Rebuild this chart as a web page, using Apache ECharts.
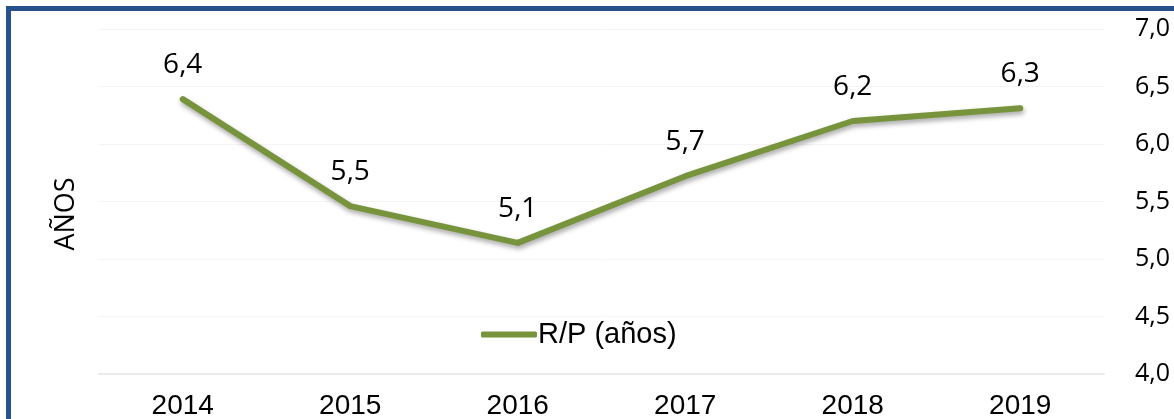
<!DOCTYPE html>
<html>
<head>
<meta charset="utf-8">
<script src="https://cdn.jsdelivr.net/npm/echarts@6/dist/echarts.min.js"></script>
<style>
  html, body { margin: 0; padding: 0; background: #fff; }
  #chart { width: 1174px; height: 419px; }
</style>
</head>
<body>
<div id="chart"></div>
<script>
var years = ['2014', '2015', '2016', '2017', '2018', '2019'];
var rp = [6.39, 5.46, 5.14, 5.72, 6.2, 6.31];
var yTicks = [4.0, 4.5, 5.0, 5.5, 6.0, 6.5, 7.0];

function coma(v) {
  return v.toFixed(1).replace('.', ',');
}

var myChart = echarts.init(document.getElementById('chart'));
var option = {
  backgroundColor: '#fff',
  animation: false,
  graphic: [
    { type: 'rect', shape: { x: 6, y: 6, width: 1168, height: 5 }, style: { fill: '#27508C' } },
    { type: 'rect', shape: { x: 6, y: 6, width: 5, height: 413 }, style: { fill: '#27508C' } },
    {
      type: 'text', x: 66, y: 214, rotation: Math.PI / 2,
      style: { text: 'AÑOS', font: '27px "Open Sans", sans-serif', fill: '#000', align: 'center', verticalAlign: 'middle' }
    }
  ],
  grid: { left: 99, right: 70, top: 29, bottom: 45, outerBoundsMode: 'none' },
  legend: {
    data: ['R/P (años)'],
    left: 476, top: 315,
    itemWidth: 56, itemHeight: 6, itemGap: 4,
    icon: 'roundRect',
    itemStyle: { color: '#77933C' },
    textStyle: { fontFamily: '"Liberation Sans", Arial, sans-serif', fontSize: 29, color: '#000', padding: [0, 0, 0, -4] }
  },
  xAxis: {
    type: 'category',
    data: years,
    boundaryGap: true,
    axisLine: { lineStyle: { color: '#EBEBEB', width: 2 } },
    axisTick: { show: false },
    axisLabel: { color: '#000', fontSize: 28, fontFamily: '"Liberation Sans", Arial, sans-serif', margin: 18 }
  },
  yAxis: {
    type: 'value',
    position: 'right',
    offset: 29,
    min: yTicks[0], max: yTicks[yTicks.length - 1], interval: 0.5,
    axisLine: { show: false },
    axisTick: { show: false },
    splitLine: { lineStyle: { color: '#F4F4F4', width: 1 } },
    axisLabel: {
      color: '#000', fontSize: 25, fontFamily: '"Open Sans", sans-serif', margin: 2,
      formatter: function (v) { return coma(v); }
    }
  },
  series: [{
    name: 'R/P (años)',
    type: 'line',
    data: rp,
    symbol: 'circle',
    symbolSize: 0.1,
    showSymbol: true,
    lineStyle: {
      color: '#77933C', width: 6, cap: 'round', join: 'round',
      shadowColor: 'rgba(0,0,0,0.35)', shadowBlur: 5, shadowOffsetX: 1, shadowOffsetY: 3
    },
    itemStyle: { color: '#77933C' },
    label: {
      show: true, position: 'top', distance: 20,
      color: '#000', fontSize: 28, fontFamily: '"Open Sans", sans-serif',
      formatter: function (p) { return coma(p.value); }
    }
  }]
};
myChart.setOption(option);
</script>
</body>
</html>
